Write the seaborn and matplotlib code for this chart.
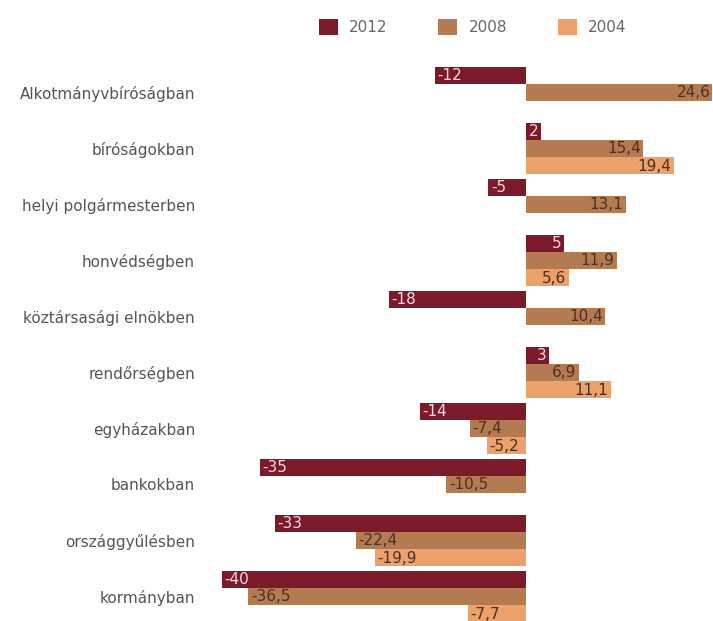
import numpy as np
import pandas as pd
import matplotlib
matplotlib.use("Agg")
import matplotlib.pyplot as plt
import seaborn as sns
from matplotlib.patches import Patch

categories = ["Alkotmányvbíróságban", "bíróságokban", "helyi polgármesterben",
              "honvédségben", "köztársasági elnökben", "rendőrségben",
              "egyházakban", "bankokban", "országgyűlésben", "kormányban"]
years = ["2012", "2008", "2004"]
v2012 = [-12, 2, -5, 5, -18, 3, -14, -35, -33, -40]
v2008 = [24.6, 15.4, 13.1, 11.9, 10.4, 6.9, -7.4, -10.5, -22.4, -36.5]
v2004 = [np.nan, 19.4, np.nan, 5.6, np.nan, 11.1, -5.2, np.nan, -19.9, -7.7]

colors = {"2012": "#7d1a2a", "2008": "#b57b50", "2004": "#eca06a"}
label_colors = {"2012": "#f6dde0", "2008": "#4a3020", "2004": "#4a3020"}

rows = []
for y, vals in zip(years, [v2012, v2008, v2004]):
    for c, v in zip(categories, vals):
        if not np.isnan(v):
            rows.append({"cat": c, "year": y, "value": v})
df = pd.DataFrame(rows)

sns.set_theme(style="white")
plt.rcParams["font.family"] = ["DejaVu Sans"]

fig = plt.figure(figsize=(7.13, 6.21), dpi=100)
ax = fig.add_axes([220 / 713, 0, 492 / 713, 559 / 621])

sns.barplot(data=df, y="cat", x="value", hue="year", order=categories,
            hue_order=years, palette=colors, orient="h", width=0.92,
            dodge=True, errorbar=None, ax=ax, legend=False, saturation=1,
            linewidth=0, edgecolor="none")

ax.set_xlim(-40.2, 24.4)
ax.set_ylim(9.44, -0.543)
for s in ax.spines.values():
    s.set_visible(False)
ax.set_xticks([])
ax.set_xlabel("")
ax.set_ylabel("")
ax.tick_params(axis="y", length=0, pad=18, labelsize=11, labelcolor="#555555")

def fmt(v, y):
    if y == "2012":
        return f"{v:.0f}"
    return f"{v:.1f}".replace(".", ",")

pad = 0.35
for cont, y in zip(ax.containers, years):
    for patch in cont.patches:
        w = patch.get_width()
        if w is None or np.isnan(w) or w == 0:
            continue
        x0 = patch.get_x()
        yc = patch.get_y() + patch.get_height() / 2
        if w > 0:
            xt, ha = x0 + w - pad, "right"
        else:
            xt, ha = x0 + w + pad, "left"
        ax.text(xt, yc + 0.01, fmt(w, y), ha=ha, va="center", fontsize=11,
                color=label_colors[y])

handles = [Patch(facecolor=colors[y], edgecolor="none") for y in years]
fig.legend(handles, years, loc="center", bbox_to_anchor=(0.663, 0.957), ncol=3,
           frameon=False, fontsize=11, handlelength=1.25, handleheight=1.25,
           columnspacing=3.3, handletextpad=0.75, labelcolor="#666666")

fig.savefig("out.png", dpi=100)
